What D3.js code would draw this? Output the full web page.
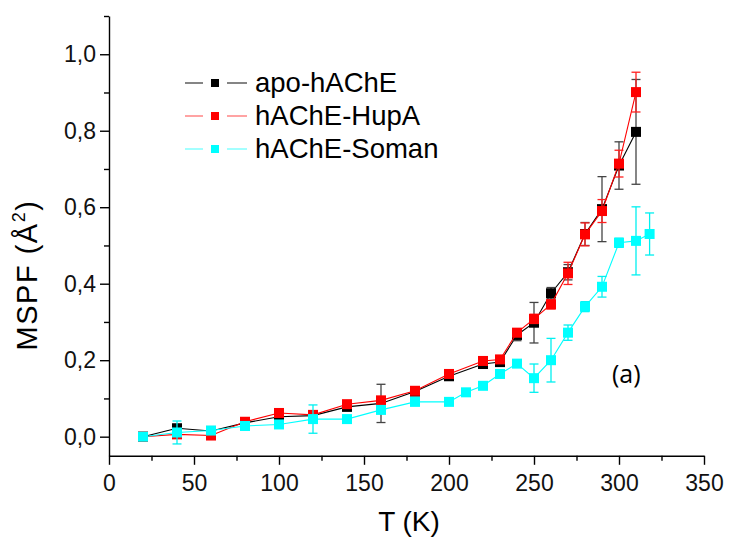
<!DOCTYPE html>
<html>
<head>
<meta charset="utf-8">
<script src="https://cdn.jsdelivr.net/npm/d3@7"></script>
<style>
	body { margin: 0; background: #fff; }
	svg { display: block; font-family: 'Liberation Sans', Arial, sans-serif; }
</style>
</head>
<body>
<div class="container"></div>
<script>
// temperatures (K)
var temps = [20, 40, 60, 80, 100, 120, 140, 160, 180, 200, 220, 230, 240, 250, 260, 270, 280, 290, 300, 310];
var tempsSoman = [20, 40, 60, 80, 100, 120, 140, 160, 180, 200, 210, 220, 230, 240, 250, 260, 270, 280, 290, 300, 310, 318];

var apo = [0.0, 0.022, 0.015, 0.036, 0.052, 0.055, 0.078, 0.087, 0.118, 0.158, 0.19, 0.195, 0.266, 0.298, 0.375, 0.43, 0.53, 0.595, 0.709, 0.797];
var apoErr = [0.005, 0.01, 0.005, 0.005, 0.005, 0.01, 0.01, 0.05, 0.008, 0.008, 0.01, 0.01, 0.015, 0.053, 0.015, 0.02, 0.03, 0.085, 0.062, 0.137];

var hupa = [0.0, 0.006, 0.003, 0.039, 0.062, 0.057, 0.085, 0.095, 0.12, 0.164, 0.198, 0.202, 0.272, 0.308, 0.346, 0.427, 0.529, 0.59, 0.714, 0.901];
var hupaErr = [0.005, 0.005, 0.005, 0.005, 0.005, 0.005, 0.008, 0.008, 0.008, 0.008, 0.008, 0.01, 0.01, 0.012, 0.012, 0.029, 0.03, 0.03, 0.035, 0.052];

var soman = [0.0, 0.011, 0.016, 0.028, 0.032, 0.046, 0.046, 0.07, 0.091, 0.091, 0.116, 0.133, 0.164, 0.191, 0.153, 0.2, 0.272, 0.34, 0.392, 0.507, 0.512, 0.53];
var somanErr = [0.005, 0.03, 0.005, 0.005, 0.005, 0.037, 0.005, 0.005, 0.005, 0.005, 0.005, 0.005, 0.008, 0.008, 0.037, 0.057, 0.02, 0.013, 0.027, 0.012, 0.089, 0.055];

var seriesNames = ['apo-hAChE', 'hAChE-HupA', 'hAChE-Soman'];
var xTicks = [0, 50, 100, 150, 200, 250, 300, 350];
var yTicks = [0, 0.2, 0.4, 0.6, 0.8, 1.0];

var series = [
	{ name: seriesNames[0], t: temps, v: apo, e: apoErr, color: '#000', errColor: '#444', legLine: '#333' },
	{ name: seriesNames[1], t: temps, v: hupa, e: hupaErr, color: '#ff0000', errColor: '#ff2020', legLine: '#ff6666' },
	{ name: seriesNames[2], t: tempsSoman, v: soman, e: somanErr, color: '#00ffff', errColor: '#00f0f0', legLine: '#66ffff' }
];

var svg = d3
	.select('.container')
	.append('svg')
	.attr('width', 729)
	.attr('height', 541);

var x = d3.scaleLinear().domain([0, 350]).range([109, 704]);
var y = d3.scaleLinear().domain([-0.05, 1.1]).range([455.8, 16]);

var fmt = function(d) {
	return d3.format('.1f')(d).replace('.', ',');
};

// x axis
svg
	.append('g')
	.attr('transform', 'translate(0,' + y(-0.05) + ')')
	.call(
		d3.axisBottom(x)
			.tickValues(xTicks)
			.tickSize(9)
			.tickPadding(10)
			.tickSizeOuter(0)
	);
svg
	.append('g')
	.attr('transform', 'translate(0,' + y(-0.05) + ')')
	.call(
		d3.axisBottom(x)
			.tickValues(d3.range(25, 350, 50))
			.tickSize(5)
			.tickFormat('')
			.tickSizeOuter(0)
	)
	.select('.domain')
	.remove();

// y axis
svg
	.append('g')
	.attr('transform', 'translate(' + x(0) + ',0)')
	.call(
		d3.axisLeft(y)
			.tickValues(yTicks)
			.tickFormat(fmt)
			.tickSize(9)
			.tickPadding(4)
			.tickSizeOuter(0)
	);
svg
	.append('g')
	.attr('transform', 'translate(' + x(0) + ',0)')
	.call(
		d3.axisLeft(y)
			.tickValues([0.1, 0.3, 0.5, 0.7, 0.9, 1.1])
			.tickSize(5)
			.tickFormat('')
			.tickSizeOuter(0)
	)
	.select('.domain')
	.remove();

svg.selectAll('.domain, .tick line').attr('stroke', '#000').attr('stroke-width', 1.4);
svg.selectAll('.tick text').attr('font-size', 23).attr('fill', '#111').attr('font-family', "'Liberation Sans', Arial, sans-serif");

// axis titles
svg
	.append('text')
	.attr('x', 409)
	.attr('y', 531)
	.attr('text-anchor', 'middle')
	.attr('font-size', 28)
	.text('T (K)');

var yTitle = svg
	.append('text')
	.attr('transform', 'translate(37,275) rotate(-90)')
	.attr('text-anchor', 'middle')
	.attr('font-size', 29)
	.attr('letter-spacing', 1.5);
yTitle.append('tspan').text('MSPF (Å');
yTitle.append('tspan').attr('font-size', 18).attr('dy', -12).text('2');
yTitle.append('tspan').attr('dy', 12).text(')');

// data
var line = d3
	.line()
	.x(function(d) {
		return x(d[0]);
	})
	.y(function(d) {
		return y(d[1]);
	});

series.forEach(function(s) {
	var pts = s.t.map(function(t, i) {
		return [t, s.v[i], s.e[i]];
	});
	var g = svg.append('g');

	g.append('path')
		.attr('d', line(pts))
		.attr('fill', 'none')
		.attr('stroke', s.color)
		.attr('stroke-width', 1.1);

	var eb = g.append('g').attr('stroke', s.errColor).attr('stroke-width', 1.3);
	pts.forEach(function(p) {
		var cx = x(p[0]);
		var y1 = y(p[1] - p[2]);
		var y2 = y(p[1] + p[2]);
		eb.append('line').attr('x1', cx).attr('x2', cx).attr('y1', y1).attr('y2', y2);
		eb.append('line').attr('x1', cx - 4.5).attr('x2', cx + 4.5).attr('y1', y1).attr('y2', y1);
		eb.append('line').attr('x1', cx - 4.5).attr('x2', cx + 4.5).attr('y1', y2).attr('y2', y2);
	});

	g.selectAll('rect')
		.data(pts)
		.enter()
		.append('rect')
		.attr('x', function(d) {
			return x(d[0]) - 5;
		})
		.attr('y', function(d) {
			return y(d[1]) - 5;
		})
		.attr('width', 10)
		.attr('height', 10)
		.attr('fill', s.color);
});

// legend
var legend = svg.append('g');
series.forEach(function(s, i) {
	var ly = 83 + i * 33;
	legend.append('line').attr('x1', 185).attr('x2', 203).attr('y1', ly).attr('y2', ly).attr('stroke', s.legLine).attr('stroke-width', 1.2);
	legend.append('line').attr('x1', 227).attr('x2', 247).attr('y1', ly).attr('y2', ly).attr('stroke', s.legLine).attr('stroke-width', 1.2);
	legend.append('rect').attr('x', 211).attr('y', ly - 4).attr('width', 8).attr('height', 8).attr('fill', s.color);
	legend
		.append('text')
		.attr('x', 255)
		.attr('y', ly + 9)
		.attr('font-size', 27.5)
		.text(s.name);
});

svg
	.append('text')
	.attr('x', 612)
	.attr('y', 383)
	.attr('font-size', 25)
	.attr('font-family', "'Open Sans', sans-serif")
	.text('(a)');
</script>
</body>
</html>
